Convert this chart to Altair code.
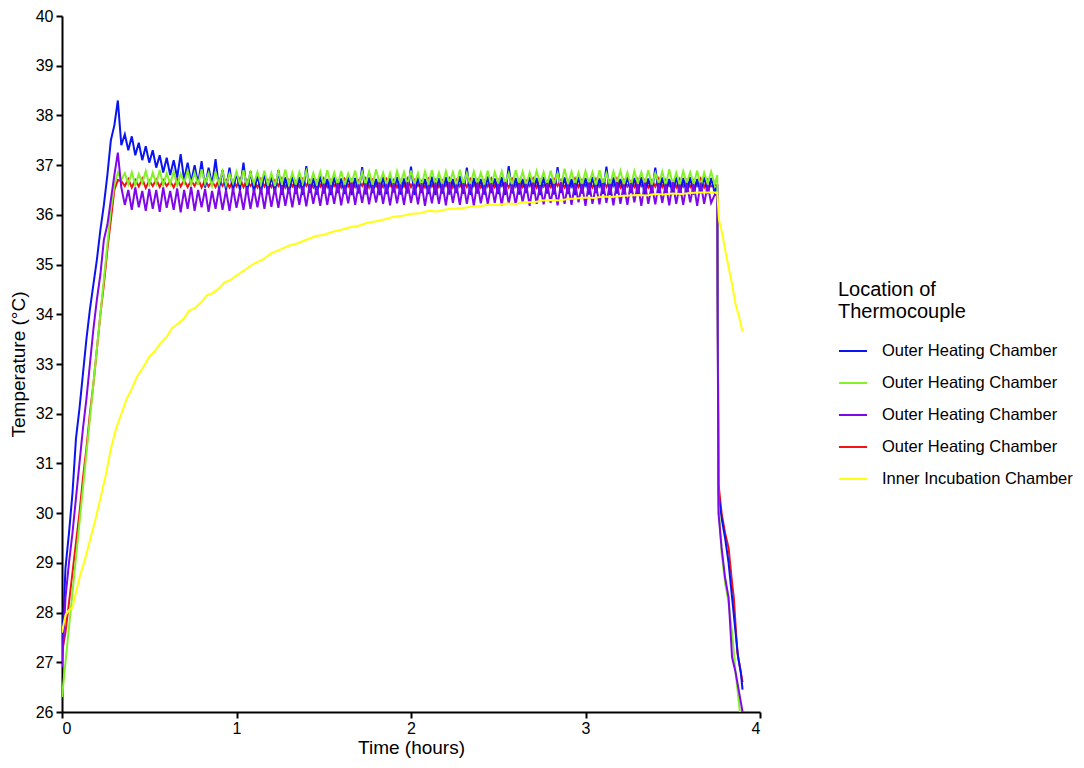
import altair as alt
import pandas as pd

SERIES = ["Outer Heating Chamber 1", "Outer Heating Chamber 2", "Outer Heating Chamber 3",
          "Outer Heating Chamber 4", "Inner Incubation Chamber"]
COLORS = ["#0a14f0", "#84f02a", "#8008e8", "#f01414", "#ffff14"]

# regular logger sampling grid, hours (0.00 .. 3.74)
GRID_T = [round(0.02 * k, 2) for k in range(188)]

BLUE = [27.2, 28.9, 29.6, 30.4, 31.5, 32.1, 32.8, 33.5, 34.1, 34.6, 35.1, 35.7, 36.2, 36.8, 37.5, 37.8, 38.3,
        37.40, 37.62, 37.30, 37.58, 37.20, 37.45, 37.10, 37.38, 37.05, 37.30,
        36.95, 37.20, 36.85, 37.15, 36.80, 37.10, 36.75, 37.22, 36.70, 37.05,
        36.65, 37.00, 36.62, 37.08, 36.55, 36.95, 36.60, 37.12, 36.52, 36.90,
        36.50, 36.95, 36.48, 36.85, 36.50, 37.05, 36.45, 36.88, 36.46, 36.80,
        36.44, 36.85, 36.42, 36.78, 36.45, 36.90, 36.40, 36.75, 36.43, 36.80,
        36.42, 36.76, 36.40, 36.98, 36.44, 36.74, 36.41, 36.78, 36.43, 36.72,
        36.40, 36.76, 36.44, 36.73, 36.42, 36.79, 36.40, 36.74, 36.43, 36.96,
        36.41, 36.75, 36.44, 36.72, 36.40, 36.78, 36.42, 36.74, 36.45, 36.76,
        36.41, 36.73, 36.43, 36.97, 36.40, 36.75, 36.44, 36.72, 36.42, 36.77,
        36.40, 36.74, 36.43, 36.76, 36.41, 36.72, 36.44, 36.78, 36.42, 36.95,
        36.40, 36.74, 36.43, 36.72, 36.41, 36.77, 36.44, 36.73, 36.42, 36.76,
        36.40, 36.98, 36.43, 36.74, 36.41, 36.72, 36.44, 36.77, 36.42, 36.74,
        36.40, 36.76, 36.43, 36.73, 36.41, 36.96, 36.44, 36.75, 36.42, 36.72,
        36.40, 36.77, 36.43, 36.74, 36.41, 36.76, 36.44, 36.73, 36.42, 36.97,
        36.40, 36.75, 36.43, 36.72, 36.41, 36.78, 36.44, 36.74, 36.42, 36.76,
        36.40, 36.73, 36.43, 36.95, 36.41, 36.75, 36.44, 36.72, 36.42, 36.77,
        36.40, 36.74, 36.43, 36.76, 36.41, 36.72, 36.44, 36.78, 36.42, 36.74,
        36.45]
BLUE_TAIL_T = [3.755, 3.762, 3.78, 3.80, 3.82, 3.84, 3.86, 3.875, 3.89, 3.90]
BLUE_TAIL_V = [36.6, 30.4, 29.9, 29.5, 29.0, 28.3, 27.6, 27.1, 26.8, 26.45]

GREEN = [26.3, 27.0, 27.7, 28.4, 29.1, 29.8, 30.5, 31.2, 31.9, 32.6, 33.3, 34.0, 34.7, 35.4, 36.1, 36.6, 36.85,
         36.70, 36.84, 36.62, 36.86, 36.60, 36.82, 36.64, 36.88, 36.61, 36.85,
         36.63, 36.90, 36.60, 36.84, 36.62, 36.87, 36.59, 36.83, 36.64, 36.89,
         36.61, 36.85, 36.60, 36.92, 36.63, 36.84, 36.58, 36.86, 36.62, 36.88,
         36.60, 36.83, 36.64, 36.87, 36.61, 36.90, 36.59, 36.85, 36.63, 36.86,
         36.62, 36.89, 36.60, 36.84, 36.58, 36.87, 36.63, 36.91, 36.61, 36.85,
         36.60, 36.86, 36.64, 36.88, 36.59, 36.84, 36.62, 36.87, 36.60, 36.90,
         36.63, 36.85, 36.61, 36.88, 36.60, 36.83, 36.64, 36.89, 36.58, 36.86,
         36.62, 36.87, 36.60, 36.92, 36.63, 36.85, 36.61, 36.84, 36.59, 36.88,
         36.64, 36.86, 36.60, 36.89, 36.62, 36.84, 36.58, 36.87, 36.63, 36.90,
         36.61, 36.85, 36.60, 36.88, 36.64, 36.86, 36.59, 36.91, 36.62, 36.84,
         36.60, 36.87, 36.63, 36.85, 36.61, 36.89, 36.58, 36.86, 36.64, 36.88,
         36.62, 36.84, 36.60, 36.90, 36.63, 36.87, 36.59, 36.85, 36.61, 36.88,
         36.64, 36.86, 36.60, 36.89, 36.62, 36.84, 36.58, 36.93, 36.63, 36.87,
         36.61, 36.85, 36.60, 36.88, 36.64, 36.86, 36.59, 36.90, 36.62, 36.84,
         36.60, 36.87, 36.63, 36.89, 36.61, 36.85, 36.58, 36.88, 36.64, 36.86,
         36.62, 36.90, 36.60, 36.84, 36.63, 36.87, 36.59, 36.92, 36.61, 36.85,
         36.60, 36.88, 36.64, 36.86, 36.62, 36.89, 36.58, 36.85, 36.63, 36.87,
         36.61]
GREEN_TAIL_T = [3.755, 3.762, 3.78, 3.80, 3.82, 3.84, 3.86, 3.885]
GREEN_TAIL_V = [36.8, 30.2, 29.2, 28.6, 28.2, 27.6, 26.8, 26.0]

PURPLE = [26.9, 28.3, 29.0, 29.6, 30.3, 31.0, 31.7, 32.3, 33.0, 33.7, 34.3, 34.8, 35.5, 35.8, 36.3, 36.8, 37.25,
          36.55, 36.20, 36.50, 36.10, 36.55, 36.15, 36.48, 36.08, 36.52, 36.12,
          36.50, 36.06, 36.55, 36.14, 36.48, 36.10, 36.53, 36.05, 36.50, 36.12,
          36.56, 36.08, 36.50, 36.15, 36.52, 36.06, 36.48, 36.12, 36.55, 36.10,
          36.50, 36.08, 36.54, 36.14, 36.50, 36.10, 36.56, 36.12, 36.52, 36.15,
          36.55, 36.12, 36.58, 36.16, 36.54, 36.14, 36.60, 36.18, 36.56, 36.15,
          36.60, 36.20, 36.58, 36.17, 36.62, 36.22, 36.58, 36.18, 36.63, 36.20,
          36.60, 36.22, 36.64, 36.19, 36.60, 36.23, 36.65, 36.20, 36.61, 36.24,
          36.63, 36.21, 36.60, 36.25, 36.65, 36.22, 36.62, 36.19, 36.64, 36.23,
          36.61, 36.20, 36.66, 36.24, 36.62, 36.21, 36.64, 36.18, 36.60, 36.23,
          36.65, 36.22, 36.62, 36.19, 36.66, 36.24, 36.61, 36.20, 36.64, 36.22,
          36.62, 36.18, 36.65, 36.23, 36.60, 36.21, 36.64, 36.24, 36.62, 36.19,
          36.66, 36.22, 36.61, 36.20, 36.64, 36.25, 36.62, 36.18, 36.65, 36.22,
          36.60, 36.21, 36.64, 36.24, 36.62, 36.19, 36.66, 36.22, 36.61, 36.20,
          36.64, 36.25, 36.62, 36.18, 36.65, 36.22, 36.60, 36.21, 36.64, 36.24,
          36.62, 36.19, 36.66, 36.22, 36.61, 36.20, 36.64, 36.25, 36.62, 36.18,
          36.65, 36.22, 36.60, 36.21, 36.64, 36.24, 36.62, 36.19, 36.66, 36.22,
          36.61, 36.20, 36.64, 36.25, 36.62, 36.18, 36.65, 36.22, 36.60, 36.24,
          36.40]
PURPLE_TAIL_T = [3.755, 3.762, 3.78, 3.80, 3.82, 3.84, 3.86, 3.88, 3.90]
PURPLE_TAIL_V = [36.4, 30.0, 29.3, 28.7, 28.3, 27.1, 26.8, 26.4, 26.0]

RED = [27.2, 27.6, 28.2, 28.8, 29.4, 30.0, 30.7, 31.3, 32.0, 32.6, 33.3, 34.0, 34.6, 35.3, 35.9, 36.5, 36.7,
       36.68, 36.58, 36.72, 36.55, 36.70, 36.57, 36.73, 36.54, 36.69, 36.58,
       36.71, 36.56, 36.70, 36.58, 36.68, 36.55, 36.72, 36.57, 36.70, 36.56,
       36.69, 36.58, 36.73, 36.55, 36.70, 36.57, 36.68, 36.56, 36.72, 36.58,
       36.70, 36.55, 36.69, 36.57, 36.73, 36.56, 36.70, 36.58, 36.68, 36.55,
       36.72, 36.57, 36.70, 36.56, 36.69, 36.58, 36.73, 36.55, 36.70, 36.57,
       36.68, 36.56, 36.72, 36.58, 36.70, 36.55, 36.69, 36.57, 36.73, 36.56,
       36.70, 36.58, 36.68, 36.55, 36.72, 36.57, 36.70, 36.56, 36.69, 36.58,
       36.73, 36.55, 36.70, 36.57, 36.68, 36.56, 36.72, 36.58, 36.70, 36.55,
       36.69, 36.57, 36.73, 36.56, 36.70, 36.58, 36.68, 36.55, 36.72, 36.57,
       36.70, 36.56, 36.69, 36.58, 36.73, 36.55, 36.70, 36.57, 36.68, 36.56,
       36.72, 36.58, 36.70, 36.55, 36.69, 36.57, 36.73, 36.56, 36.70, 36.58,
       36.68, 36.55, 36.72, 36.57, 36.70, 36.56, 36.69, 36.58, 36.73, 36.55,
       36.70, 36.57, 36.68, 36.56, 36.72, 36.58, 36.70, 36.55, 36.69, 36.57,
       36.73, 36.56, 36.70, 36.58, 36.68, 36.55, 36.72, 36.57, 36.70, 36.56,
       36.69, 36.58, 36.73, 36.55, 36.70, 36.57, 36.68, 36.56, 36.72, 36.58,
       36.70, 36.55, 36.69, 36.57, 36.73, 36.56, 36.70, 36.58, 36.68, 36.55,
       36.72, 36.57, 36.70, 36.56, 36.69, 36.58, 36.73, 36.55, 36.70, 36.57,
       36.60]
RED_TAIL_T = [3.755, 3.762, 3.78, 3.80, 3.82, 3.84, 3.85, 3.87, 3.885, 3.90]
RED_TAIL_V = [36.6, 30.6, 30.0, 29.6, 29.3, 28.6, 28.3, 27.2, 26.9, 26.6]

YELLOW_T = [0.00, 0.02, 0.04, 0.06, 0.08, 0.10, 0.13, 0.16, 0.19, 0.22, 0.25, 0.28, 0.31, 0.34, 0.37,
            0.40, 0.43, 0.46, 0.50, 0.53, 0.56, 0.60, 0.63, 0.66, 0.70, 0.73, 0.76, 0.80, 0.83, 0.86,
            0.90, 0.93, 0.96, 1.00, 1.05, 1.10, 1.15, 1.20, 1.25, 1.30, 1.35, 1.40, 1.45, 1.50, 1.55,
            1.60, 1.65, 1.70, 1.75, 1.80, 1.85, 1.90, 1.95, 2.00, 2.05, 2.10, 2.15, 2.20, 2.25, 2.30,
            2.35, 2.40, 2.45, 2.50, 2.55, 2.60, 2.65, 2.70, 2.75, 2.80, 2.85, 2.90, 2.95, 3.00, 3.05,
            3.10, 3.15, 3.20, 3.25, 3.30, 3.35, 3.40, 3.45, 3.50, 3.55, 3.60, 3.65, 3.70, 3.755,
            3.765, 3.775, 3.785, 3.80, 3.82, 3.84, 3.86, 3.88, 3.90]
YELLOW_V = [27.6, 27.95, 28.05, 28.1, 28.4, 28.7, 29.05, 29.45, 29.85, 30.3, 30.75, 31.3, 31.7, 32.0, 32.3,
            32.5, 32.75, 32.9, 33.15, 33.25, 33.4, 33.55, 33.72, 33.8, 33.92, 34.08, 34.12, 34.25, 34.38, 34.42,
            34.52, 34.64, 34.68, 34.78, 34.9, 35.02, 35.1, 35.23, 35.3, 35.38, 35.43, 35.5, 35.57, 35.6, 35.66,
            35.7, 35.75, 35.78, 35.84, 35.87, 35.91, 35.96, 35.98, 36.02, 36.03, 36.08, 36.07, 36.11, 36.13, 36.14,
            36.17, 36.18, 36.21, 36.2, 36.23, 36.22, 36.26, 36.25, 36.29, 36.3, 36.29, 36.32, 36.33, 36.35, 36.34,
            36.37, 36.36, 36.38, 36.39, 36.4, 36.39, 36.42, 36.41, 36.43, 36.42, 36.44, 36.45, 36.45, 36.45,
            35.9, 35.75, 35.6, 35.3, 34.95, 34.6, 34.2, 33.95, 33.65]

# draw order (back to front): red, blue, green, purple, yellow
layers = [
    (SERIES[3], GRID_T + RED_TAIL_T, RED + RED_TAIL_V),
    (SERIES[0], GRID_T + BLUE_TAIL_T, BLUE + BLUE_TAIL_V),
    (SERIES[1], GRID_T + GREEN_TAIL_T, GREEN + GREEN_TAIL_V),
    (SERIES[2], GRID_T + PURPLE_TAIL_T, PURPLE + PURPLE_TAIL_V),
    (SERIES[4], YELLOW_T, YELLOW_V),
]
rows = []
for name, ts, vs in layers:
    for t, v in zip(ts, vs):
        rows.append({"s": name, "t": t, "v": v})
df = pd.DataFrame(rows)

FONT = "Liberation Sans"

chart = alt.Chart(df).mark_line(strokeWidth=2, clip=True).encode(
    x=alt.X("t:Q", scale=alt.Scale(domain=[0, 4], nice=False),
            axis=alt.Axis(values=[0, 1, 2, 3, 4], title="Time (hours)", titlePadding=2, labelPadding=2)),
    y=alt.Y("v:Q", scale=alt.Scale(domain=[26, 40], nice=False, zero=False),
            axis=alt.Axis(values=list(range(26, 41)), title="Temperature (°C)", titlePadding=7, labelPadding=3)),
    color=alt.Color("s:N", scale=alt.Scale(domain=SERIES, range=COLORS),
                    legend=alt.Legend(
                        title=["Location of", "Thermocouple"],
                        orient="none", legendX=776, legendY=264,
                        symbolType="stroke", symbolSize=784, symbolStrokeWidth=2,
                        labelExpr="indexof(datum.label, 'Outer') == 0 ? 'Outer Heating Chamber' : datum.label",
                        labelFontSize=16.5, labelFont=FONT, labelColor="black", labelOffset=14, labelLimit=0,
                        titleFontSize=20, titleFont=FONT, titleFontWeight="normal", titleColor="black",
                        titlePadding=14, rowPadding=8, titleLimit=0)),
).properties(
    width=698, height=696,
    autosize=alt.AutoSizeParams(type="none"),
    padding={"left": 54, "top": 8, "right": 316, "bottom": 48},
).configure_view(stroke=None).configure_axis(
    grid=False, domainColor="black", domainWidth=2, tickColor="black", tickWidth=2, tickSize=6,
    labelFont=FONT, labelFontSize=16, labelColor="black",
    titleFont=FONT, titleFontSize=19, titleFontWeight="normal", titleColor="black",
)

chart.save("out.html", embed_options={"renderer": "svg", "actions": False})
